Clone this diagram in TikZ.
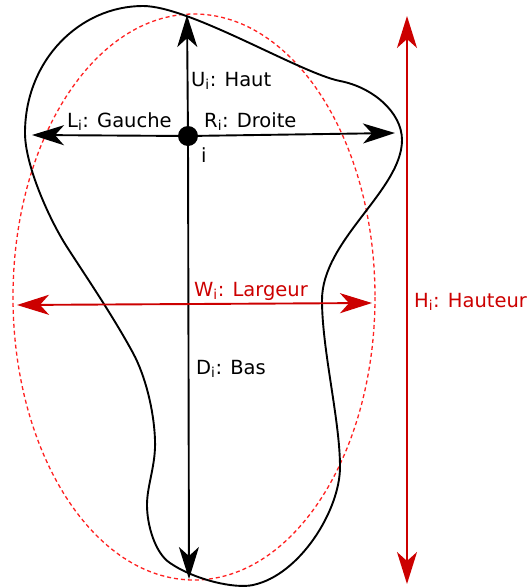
\documentclass[tikz,border=0pt]{standalone}
\usepackage{fontspec}
\setmainfont{DejaVu Sans}
\usetikzlibrary{arrows.meta}
\definecolor{darkred}{HTML}{CC0000}
\definecolor{lightred}{HTML}{FF2020}
\begin{document}
\begin{tikzpicture}[x=1pt,y=-1pt,
  tip/.tip={Stealth[length=32pt,width=20pt,inset=9pt]},
  arr/.style={line width=1.9pt,-tip},
  rarr/.style={line width=1.9pt,draw=darkred,tip-tip},
  lbl/.style={font=\fontsize{19.5}{24}\selectfont,inner sep=0pt,anchor=base west},
  rlbl/.style={lbl,text=darkred}]
\useasboundingbox (0,0) rectangle (529,587);
% dashed ellipse
\draw[lightred,line width=1.3pt,dash pattern=on 4pt off 3pt] (194,297) ellipse [x radius=181,y radius=283];
% blob
\draw[line width=1.9pt] (143,6)
  .. controls (190,6) and (300,73) .. (340,81)
  .. controls (372,87) and (402,112) .. (402,140)
  .. controls (402,190) and (322,240) .. (322,300)
  .. controls (322,350) and (340,420) .. (340,467)
  .. controls (340,510) and (300,575) .. (253,585)
  .. controls (235,589) and (195,580) .. (170,563)
  .. controls (155,553) and (147,525) .. (147,505)
  .. controls (147,485) and (156,465) .. (155,440)
  .. controls (154,410) and (145,375) .. (133,353)
  .. controls (113,316) and (85,275) .. (67,247)
  .. controls (49,219) and (25,165) .. (25,133)
  .. controls (25,60) and (80,6) .. cycle;
% coordinates
\coordinate (ctr) at (188,136);
\coordinate (up) at (187,15);
\coordinate (dn) at (189,579);
\coordinate (lt) at (32,135);
\coordinate (rt) at (395,133);
\coordinate (wl) at (17,305);
\coordinate (wr) at (372,303);
\coordinate (ht) at (407,16);
\coordinate (hb) at (407,584);
% arrows
\draw[arr] (ctr) -- (up);
\draw[arr] (ctr) -- (dn);
\draw[arr] (ctr) -- (lt);
\draw[arr] (ctr) -- (rt);
\draw[rarr] (wl) -- (wr);
\draw[rarr] (ht) -- (hb);
\node[circle,fill=black,minimum size=20pt,inner sep=0pt] (i) at (ctr) {};
% labels
\node[lbl] (lu) at (191,86) {U\textsubscript{i}: Haut};
\node[lbl] (ll) at (67,127) {L\textsubscript{i}: Gauche};
\node[lbl] (lr) at (204,127) {R\textsubscript{i}: Droite};
\node[lbl] (li) at (201,162) {i};
\node[rlbl] (lw) at (194,296) {W\textsubscript{i}: Largeur};
\node[rlbl] (lh) at (414,307) {H\textsubscript{i}: Hauteur};
\node[lbl] (ld) at (196,374) {D\textsubscript{i}: Bas};
\end{tikzpicture}
\end{document}
